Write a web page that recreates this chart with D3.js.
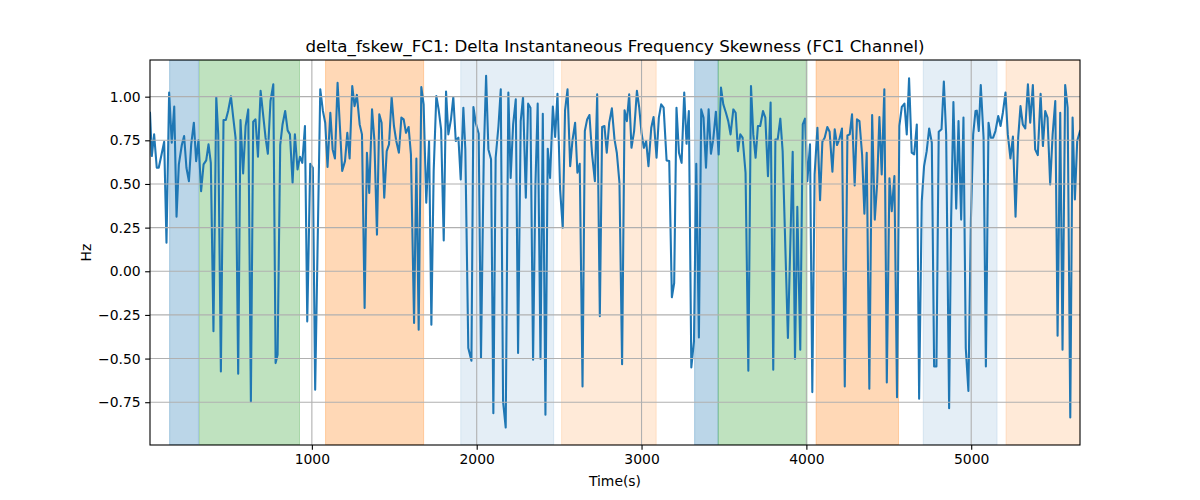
<!DOCTYPE html>
<html>
<head>
<meta charset="utf-8">
<script src="https://cdn.jsdelivr.net/npm/d3@7"></script>
<style>
  html, body { margin: 0; padding: 0; background: #ffffff; }
  svg { display: block; }
  text { font-family: "DejaVu Sans", sans-serif; fill: #000; }
</style>
</head>
<body>
<svg id="chart" width="1200" height="500"></svg>
<script>
// ---- data ----
const times = [18,29,43,59,71,88,104,118,134,150,165,179,193,211,225,239,254,268,284,298,312,328,343,359,373,387,403,420,432,448,464,478,492,509,523,537,553,567,583,598,614,630,644,658,673,689,703,719,733,749,766,780,792,808,822,838,853,867,883,897,913,928,942,958,972,
990,1006,1020,1051,1067,1081,1095,1112,1126,1140,1156,1170,1184,1201,1215,1229,1245,1259,1273,1290,1304,1320,1334,1348,1365,1379,1395,1409,1423,1439,1454,1468,1484,1498,1512,1528,1543,1557,1571,1587,1601,1620,1634,1648,1664,1678,1694,1711,1725,1739,1755,1769,1784,1800,1814,1828,1844,1858,1873,1889,1903,1919,1931,
1949,1968,1980,1994,2012,2026,2043,2057,2071,2087,2101,2115,2132,2146,2160,2176,2192,2206,2221,2237,2251,2267,2281,2298,2312,2326,2342,2356,2370,2387,2401,2417,2431,2445,2462,2476,2490,2506,2522,2536,2551,2567,2581,2597,2611,2625,2642,2656,2670,2684,2700,2717,2731,2747,2761,2775,2789,2804,2820,2836,2850,2866,2882,2897,2911,2925,
2939,2955,2972,2986,3000,3014,3028,3042,3059,3073,3091,3105,3119,3134,3152,3168,3184,3198,3212,3227,3243,3259,3273,3287,3302,3318,3332,3348,3362,3376,3391,3407,3421,3435,3451,3468,3482,3496,3512,3526,3540,3557,3571,3585,3599,3613,3631,3648,3664,3678,3692,3706,3720,3737,3751,3767,3783,3799,3812,3826,3842,3856,3888,
3917,3931,3945,3963,3978,3992,4006,4022,4036,4050,4067,4083,4097,4111,4127,4141,4158,4172,4186,4200,4216,4233,4249,4263,4277,4293,4307,4322,4338,4352,4366,4382,4399,4415,4429,4443,4457,4473,4488,4504,4518,4534,4550,4564,4579,4595,4609,4623,4639,4654,4670,4684,4700,4714,4730,4745,4761,4775,4789,4803,4820,4834,4848,4866,
4878,4892,4909,4923,4939,4953,4967,4983,4998,5012,5026,5034,5046,5058,5075,5089,5105,5119,5133,5147,5164,5178,5192,5208,5222,5238,5253,5269,5285,5299,5313,5328,5344,5358,5374,5388,5404,5421,5435,5449,5463,5479,5494,5510,5524,5540,5554,5570,5585,5601,5615,5629,5643,5660];

const values = [0.908,0.660,0.784,0.593,0.593,0.669,0.742,0.163,1.023,0.736,0.943,0.312,0.612,0.723,0.774,0.593,0.516,0.727,0.851,0.631,0.750,0.459,0.612,0.635,0.727,0.621,-0.344,0.998,0.784,-0.574,0.866,0.866,0.918,1.002,0.880,0.765,-0.587,0.866,0.560,0.832,0.927,-0.746,0.857,0.870,0.656,1.033,0.908,0.765,0.673,0.975,1.071,-0.526,-0.478,0.723,0.841,0.918,0.807,0.784,0.507,0.784,0.583,0.656,0.621,0.832,-0.287,
0.616,0.593,-0.679,1.042,0.918,0.851,0.597,0.908,0.698,0.646,1.080,0.832,0.574,0.631,0.793,0.646,1.061,0.946,1.010,0.841,0.784,-0.210,0.679,0.449,0.927,0.755,0.210,0.899,0.851,0.421,0.688,0.727,0.998,0.832,0.746,0.679,0.880,0.870,0.793,0.826,0.669,-0.296,0.646,-0.335,1.055,0.956,0.392,0.746,-0.306,0.574,1.004,0.927,0.813,0.176,1.029,0.784,0.870,0.998,0.746,0.765,0.526,0.937,0.698,
-0.440,-0.512,0.941,0.851,0.788,-0.497,0.669,1.119,0.698,0.641,-0.813,0.650,0.832,1.042,-0.746,-0.895,1.023,0.535,0.841,0.985,-0.468,0.860,0.998,0.421,0.960,0.937,-0.507,0.488,0.960,-0.501,0.902,-0.822,0.702,0.535,0.943,0.769,1.017,0.468,0.249,0.922,1.042,0.602,0.750,0.851,0.564,0.616,-0.660,0.803,0.870,0.895,0.669,0.516,1.013,-0.258,0.826,0.832,0.679,0.851,0.933,0.755,0.679,0.507,-0.532,0.922,0.860,1.013,
0.707,0.803,1.033,0.937,0.793,0.707,0.746,0.602,0.822,0.883,0.650,0.880,0.956,0.937,0.635,0.631,-0.149,-0.067,0.937,0.679,0.621,1.023,0.730,0.918,-0.551,-0.402,0.616,-0.379,0.927,0.880,0.593,0.927,0.673,0.755,0.914,0.669,1.052,0.956,0.908,0.860,0.784,0.927,0.908,0.688,0.784,0.765,0.564,-0.570,1.061,0.784,0.650,0.832,0.832,0.918,0.880,0.545,0.966,-0.564,0.755,0.755,0.874,0.688,-0.382,
0.685,-0.501,0.369,-0.449,0.841,0.874,0.516,0.727,-0.692,0.555,0.822,0.407,0.742,0.765,0.826,0.799,0.570,0.813,0.723,0.755,0.818,-0.660,0.778,0.784,0.899,0.491,0.870,0.860,0.669,0.329,0.679,-0.673,0.895,0.296,0.497,0.883,0.555,1.042,-0.637,0.532,0.344,0.545,-0.721,0.832,0.941,0.960,0.784,1.105,0.679,0.669,0.841,-0.730,0.402,0.602,0.688,0.818,0.736,-0.545,-0.545,0.799,0.813,1.086,0.784,-0.784,
0.287,0.969,0.359,0.860,0.296,0.880,-0.440,-0.685,0.287,0.784,0.918,0.920,0.803,1.067,0.765,-0.545,0.851,0.765,0.765,0.803,0.889,0.832,0.908,1.023,0.784,0.646,0.771,0.312,0.765,0.946,0.841,0.818,1.071,0.851,1.067,0.698,0.665,1.017,0.717,0.918,0.880,0.497,0.784,0.975,-0.369,0.908,-0.449,1.067,0.937,-0.837,0.880,0.411,0.746,0.803];

// shaded spans
const spanStarts = [137, 318, 1083, 1903, 2515, 3322, 3465, 4059, 4709, 5211];
const spanEnds   = [312, 925, 1678, 2467, 3089, 3465, 4004, 4559, 5157, 5700];
const spanColors = ["#1f77b4","#2ca02c","#ff7f0e","#1f77b4","#ff7f0e","#1f77b4","#2ca02c","#ff7f0e","#1f77b4","#ff7f0e"];
const spanAlphas = [0.3, 0.3, 0.3, 0.12, 0.16, 0.3, 0.3, 0.3, 0.12, 0.16];

const xTicks = [1000, 2000, 3000, 4000, 5000];
const yTicks = [-0.75, -0.5, -0.25, 0, 0.25, 0.5, 0.75, 1.0];
const yDomain = [-0.995, 1.21];

const titleText = "delta_fskew_FC1: Delta Instantaneous Frequency Skewness (FC1 Channel)";
const xLabelText = "Time(s)";
const yLabelText = "Hz";

// ---- layout ----
const W = 1200, H = 500;
const L = 150, R = 1080, T = 60, B = 445;

const svg = d3.select("#chart");
const x = d3.scaleLinear().domain(d3.extent(times)).range([L, R]);
const y = d3.scaleLinear().domain(yDomain).range([B, T]);

const defs = svg.append("defs");
defs.append("clipPath").attr("id", "clip")
  .append("rect").attr("x", L).attr("y", T).attr("width", R - L).attr("height", B - T);

const plot = svg.append("g").attr("clip-path", "url(#clip)");

// spans
plot.selectAll("rect.span").data(spanStarts.map((s, i) => ({s, e: spanEnds[i], c: spanColors[i], a: spanAlphas[i]})))
  .enter().append("rect")
  .attr("class", "span")
  .attr("x", d => x(d.s))
  .attr("y", T)
  .attr("width", d => x(d.e) - x(d.s))
  .attr("height", B - T)
  .attr("fill", d => d.c)
  .attr("fill-opacity", d => d.a)
  .attr("stroke", d => d.c)
  .attr("stroke-opacity", d => d.a)
  .attr("stroke-width", 1);

// grid
const grid = svg.append("g");
grid.selectAll("line.gx").data(xTicks).enter().append("line")
  .attr("x1", d => x(d)).attr("x2", d => x(d))
  .attr("y1", T).attr("y2", B)
  .attr("stroke", "#b0b0b0").attr("stroke-width", 1.1);
grid.selectAll("line.gy").data(yTicks).enter().append("line")
  .attr("x1", L).attr("x2", R)
  .attr("y1", d => y(d)).attr("y2", d => y(d))
  .attr("stroke", "#b0b0b0").attr("stroke-width", 1.1);

// line
const line = d3.line().x((d, i) => x(times[i])).y(d => y(d));
plot.append("path")
  .datum(values)
  .attr("d", line)
  .attr("fill", "none")
  .attr("stroke", "#1f77b4")
  .attr("stroke-width", 2.08)
  .attr("stroke-linejoin", "round")
  .attr("stroke-linecap", "square");

// axes
const fmtY = v => d3.format(".2f")(v).replace("-", "\u2212");
const xAxis = d3.axisBottom(x).tickValues(xTicks).tickSize(4.86).tickPadding(4.5).tickFormat(d3.format("d"));
const yAxis = d3.axisLeft(y).tickValues(yTicks).tickSize(4.86).tickPadding(4.5).tickFormat(fmtY);

const gx = svg.append("g").attr("transform", `translate(0,${B})`).call(xAxis);
const gy = svg.append("g").attr("transform", `translate(${L},0)`).call(yAxis);
[gx, gy].forEach(g => {
  g.select(".domain").remove();
  g.selectAll(".tick line").attr("stroke", "#000").attr("stroke-width", 1.1);
  g.selectAll(".tick text").attr("font-family", "DejaVu Sans").attr("font-size", "13.9px").attr("fill", "#000");
});

// frame
svg.append("rect").attr("x", L).attr("y", T).attr("width", R - L).attr("height", B - T)
  .attr("fill", "none").attr("stroke", "#000").attr("stroke-width", 1.1);

// title & labels
svg.append("text").attr("x", (L + R) / 2).attr("y", 52).attr("text-anchor", "middle")
  .attr("font-size", "16.67px").text(titleText);
svg.append("text").attr("x", (L + R) / 2).attr("y", 486).attr("text-anchor", "middle")
  .attr("font-size", "13.9px").text(xLabelText);
svg.append("text").attr("transform", `translate(91,${(T + B) / 2}) rotate(-90)`).attr("text-anchor", "middle")
  .attr("font-size", "13.9px").text(yLabelText);
</script>
</body>
</html>
